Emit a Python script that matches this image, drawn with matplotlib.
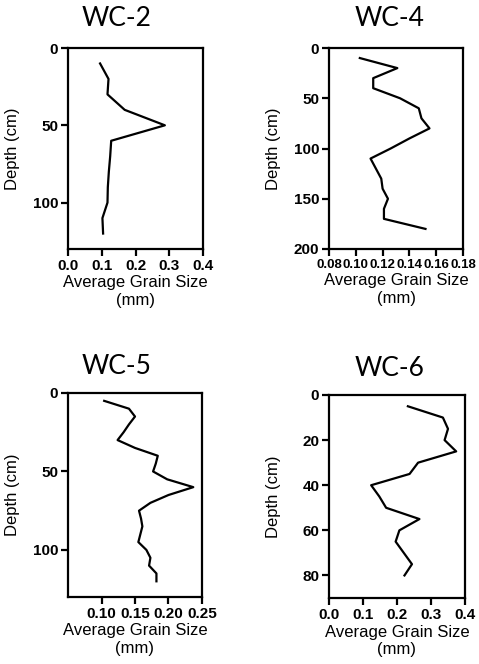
import numpy as np
import matplotlib
matplotlib.use("Agg")
import matplotlib.pyplot as plt

# data (depth in cm, grain size in mm)
wc2_depth = [10, 20, 30, 40, 50, 60, 70, 80, 90, 100, 110, 120]
wc2_size = [0.095, 0.120, 0.117, 0.168, 0.287, 0.128, 0.125, 0.121, 0.118, 0.117, 0.102, 0.104]

wc4_depth = [10, 20, 30, 40, 50, 60, 70, 80, 90, 100, 110, 120, 130, 140, 150, 160, 170, 180]
wc4_size = [0.103, 0.131, 0.113, 0.113, 0.133, 0.147, 0.149, 0.155, 0.140, 0.126, 0.111,
            0.115, 0.119, 0.120, 0.124, 0.121, 0.121, 0.152]

wc5_depth = [5, 10, 15, 20, 25, 30, 35, 40, 45, 50, 55, 60, 65, 70, 75, 80, 85, 90,
             95, 100, 105, 110, 115, 120]
wc5_size = [0.104, 0.141, 0.150, 0.141, 0.133, 0.124, 0.150, 0.184, 0.181, 0.177, 0.198,
            0.237, 0.200, 0.173, 0.156, 0.159, 0.161, 0.158, 0.155, 0.167, 0.173, 0.171,
            0.182, 0.182]

wc6_depth = [5, 10, 15, 20, 25, 30, 35, 40, 45, 50, 55, 60, 65, 70, 75, 80]
wc6_size = [0.232, 0.335, 0.350, 0.340, 0.374, 0.262, 0.237, 0.124, 0.148, 0.168, 0.266,
            0.207, 0.196, 0.220, 0.244, 0.222]

titles = ["WC-2", "WC-4", "WC-5", "WC-6"]

W, H = 479, 664
fig = plt.figure(figsize=(W / 100, H / 100), dpi=100)

tick_font = {"family": "Liberation Sans", "weight": "bold", "size": 11}
label_font = {"family": "Liberation Sans", "size": 12}


def make_ax(x0, y0, x1, y1):
    # pixel box -> figure fraction
    return fig.add_axes([x0 / W, 1 - y1 / H, (x1 - x0) / W, (y1 - y0) / H])


def style(ax, xlim, xticks, xfmt, ylim, yticks, xtick_size=11):
    ax.set_xlim(*xlim)
    ax.set_ylim(ylim, 0)
    ax.set_xticks(xticks)
    ax.set_xticklabels([xfmt.format(v) for v in xticks],
                       fontdict=dict(tick_font, size=xtick_size))
    ax.set_yticks(yticks)
    ax.set_yticklabels([str(v) for v in yticks], fontdict=tick_font)
    for s in ax.spines.values():
        s.set_linewidth(1.6)
    ax.tick_params(width=1.6, length=5, pad=2)
    ax.set_xlabel("Average Grain Size\n(mm)", fontdict=label_font, labelpad=2)
    ax.set_ylabel("Depth (cm)", fontdict=label_font)
    ax.yaxis.set_label_coords(-0.355, 0.5)


ax1 = make_ax(68, 48, 203, 249)
ax1.plot(wc2_size, wc2_depth, color="black", lw=1.6)
style(ax1, (0, 0.4), [0.0, 0.1, 0.2, 0.3, 0.4], "{:.1f}", 130, [0, 50, 100])

ax2 = make_ax(329, 48, 463, 249)
ax2.plot(wc4_size, wc4_depth, color="black", lw=1.6)
style(ax2, (0.08, 0.18), [0.08, 0.10, 0.12, 0.14, 0.16, 0.18], "{:.2f}", 200,
      [0, 50, 100, 150, 200], xtick_size=9.5)

ax3 = make_ax(68, 393, 202, 597)
ax3.plot(wc5_size, wc5_depth, color="black", lw=1.6)
style(ax3, (0.05, 0.25), [0.10, 0.15, 0.20, 0.25], "{:.2f}", 130, [0, 50, 100])

ax4 = make_ax(329, 395, 465, 598)
ax4.plot(wc6_size, wc6_depth, color="black", lw=1.6)
style(ax4, (0, 0.4), [0.0, 0.1, 0.2, 0.3, 0.4], "{:.1f}", 90, [0, 20, 40, 60, 80])

# panel titles
title_pos = [(117, 18), (390, 18), (117, 367), (390, 369)]
for t, (px, py) in zip(titles, title_pos):
    fig.text(px / W, 1 - py / H, t, family="Lato", size=19, ha="center", va="center")

plt.savefig("out.png", dpi=100)
